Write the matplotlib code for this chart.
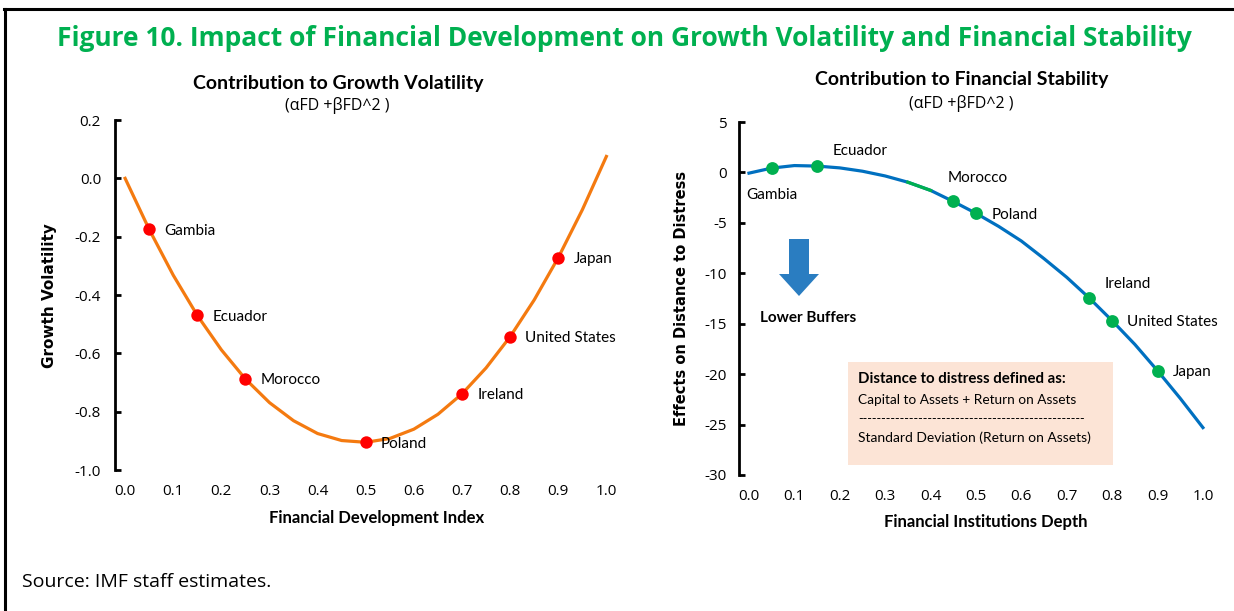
import matplotlib
matplotlib.use('Agg')
import matplotlib.pyplot as plt
from matplotlib.lines import Line2D
from matplotlib.patches import Rectangle, Polygon

# ---- data ----
fd_index = [0.0, 0.05, 0.1, 0.15, 0.2, 0.25, 0.3, 0.35, 0.4, 0.45, 0.5,
            0.55, 0.6, 0.65, 0.7, 0.75, 0.8, 0.85, 0.9, 0.95, 1.0]
growth_vol = [0.0, -0.175, -0.332, -0.470, -0.588, -0.688, -0.769, -0.831, -0.875, -0.899, -0.905,
              -0.892, -0.860, -0.809, -0.739, -0.650, -0.543, -0.417, -0.272, -0.108, 0.075]
gv_countries = ['Gambia', 'Ecuador', 'Morocco', 'Poland', 'Ireland', 'United States', 'Japan']
gv_x = [0.05, 0.15, 0.25, 0.5, 0.7, 0.8, 0.9]
gv_y = [-0.175, -0.470, -0.688, -0.905, -0.739, -0.543, -0.272]

fi_depth = [0.0, 0.05, 0.1, 0.15, 0.2, 0.25, 0.3, 0.35, 0.4, 0.45, 0.5,
            0.55, 0.6, 0.65, 0.7, 0.75, 0.8, 0.85, 0.9, 0.95, 1.0]
dist_distress = [-0.07, 0.43, 0.68, 0.63, 0.45, 0.12, -0.35, -0.97, -1.78, -2.88, -4.05,
                 -5.35, -6.8, -8.55, -10.4, -12.47, -14.7, -17.05, -19.66, -22.4, -25.3]
fs_countries = ['Gambia', 'Ecuador', 'Morocco', 'Poland', 'Ireland', 'United States', 'Japan']
fs_x = [0.05, 0.15, 0.45, 0.5, 0.75, 0.8, 0.9]
fs_y = [0.43, 0.63, -2.88, -4.05, -12.47, -14.7, -19.66]

x_ticks = [0.0, 0.1, 0.2, 0.3, 0.4, 0.5, 0.6, 0.7, 0.8, 0.9, 1.0]
gv_ticks = [-1.0, -0.8, -0.6, -0.4, -0.2, 0.0, 0.2]
fs_ticks = [-30, -25, -20, -15, -10, -5, 0, 5]

W, H = 1234, 611
plt.rcParams['font.family'] = ['Lato', 'DejaVu Sans']

fig = plt.figure(figsize=(W / 100, H / 100), dpi=100)


def fx(px):
    return px / W


def fy(py):
    return 1 - py / H


# frame lines at top and left
fig.add_artist(Line2D([fx(4), 1], [fy(9), fy(9)], color='black', lw=2.2))
fig.add_artist(Line2D([fx(5), fx(5)], [fy(9), 0], color='black', lw=2.2))

fig.text(fx(624), fy(38), 'Figure 10. Impact of Financial Development on Growth Volatility and Financial Stability',
         ha='center', va='center', color='#00B050', fontsize=19, fontweight='bold', family='Open Sans')
fig.text(fx(22), fy(582), 'Source: IMF staff estimates.', ha='left', va='center',
         fontsize=14, family='Open Sans')


def style_axis(ax, xmin, xmax, ticks, fmt, pad_y):
    for s in ['top', 'right', 'bottom']:
        ax.spines[s].set_visible(False)
    ax.spines['left'].set_linewidth(2)
    ax.set_xlim(xmin, xmax)
    ax.set_xticks(x_ticks)
    ax.set_xticklabels(['%.1f' % v for v in x_ticks], family='Open Sans')
    ax.set_yticks(ticks)
    ax.set_yticklabels([fmt % v for v in ticks], family='Open Sans')
    ax.tick_params(axis='x', length=0, pad=10, labelsize=11)
    ax.tick_params(axis='y', direction='in', length=4, width=2, pad=pad_y, labelsize=11)
    ax.patch.set_alpha(0)


# ---- left panel ----
ax1 = fig.add_axes([fx(115), fy(470), fx(616) - fx(115), fy(120) - fy(470)])
ax1.plot(fd_index, growth_vol, color='#F47A10', lw=2.3, zorder=2)
ax1.scatter(gv_x, gv_y, s=80, color='#FF0000', zorder=3, linewidths=0)
for name, x, y in zip(gv_countries, gv_x, gv_y):
    ax1.annotate(name, (x, y), xytext=(11, -1), textcoords='offset points',
                 ha='left', va='center', fontsize=11)
ax1.set_ylim(-1.0, 0.2)
style_axis(ax1, -0.021, 1.02, gv_ticks, '%.1f', 10)

fig.text(fx(338), fy(83), 'Contribution to Growth Volatility', ha='center', va='center',
         fontsize=14, fontweight='bold')
fig.text(fx(337), fy(106), '(\u03b1FD +\u03b2FD^2 )', ha='center', va='center', fontsize=11.5,
         family='Open Sans')
fig.text(fx(377), fy(518), 'Financial Development Index', ha='center', va='center',
         fontsize=12, fontweight='bold')
fig.text(fx(50), fy(296), 'Growth Volatility', ha='center', va='center', rotation=90,
         fontsize=11, fontweight='bold', family='DejaVu Sans')

# ---- right panel ----
ax2 = fig.add_axes([fx(739), fy(475), fx(1212) - fx(739), fy(122) - fy(475)])
ax2.plot(fi_depth, dist_distress, color='#0070C0', lw=2.3, zorder=2)
ax2.plot(fi_depth[7:9], dist_distress[7:9], color='#00B050', lw=2.3, zorder=2)
ax2.scatter(fs_x, fs_y, s=85, color='#00B050', zorder=3, linewidths=0)
offsets = [(0, -19.5, 'center'), (11, 11, 'left'), (-4, 17, 'left'), (11, -1, 'left'),
           (11, 10, 'left'), (11, -1, 'left'), (11, -1, 'left')]
for name, x, y, (dx, dy, ha) in zip(fs_countries, fs_x, fs_y, offsets):
    ax2.annotate(name, (x, y), xytext=(dx, dy), textcoords='offset points',
                 ha=ha, va='center', fontsize=11)
ax2.set_ylim(-30, 5)
style_axis(ax2, -0.022, 1.02, fs_ticks, '%d', 9)

fig.text(fx(962), fy(80), 'Contribution to Financial Stability', ha='center', va='center',
         fontsize=14, fontweight='bold')
fig.text(fx(961), fy(104), '(\u03b1FD +\u03b2FD^2 )', ha='center', va='center', fontsize=11.5,
         family='Open Sans')
fig.text(fx(986), fy(522), 'Financial Institutions Depth', ha='center', va='center',
         fontsize=12, fontweight='bold')
fig.text(fx(682), fy(298), 'Effects on Distance to Distress', ha='center', va='center',
         rotation=90, fontsize=10.5, fontweight='bold', family='DejaVu Sans')

# down arrow drawn as a polygon in pixel positions
arrow_px = [(789, 239), (809, 239), (809, 274), (819, 274), (799, 296),
            (779, 274), (789, 274)]
fig.add_artist(Polygon([(fx(a), fy(b)) for a, b in arrow_px], closed=True,
                       facecolor='#2A7DC1', edgecolor='none', transform=fig.transFigure))
fig.text(fx(760), fy(318), 'Lower Buffers', ha='left', va='center', fontsize=11, fontweight='bold')

fig.add_artist(Rectangle((fx(848), fy(465)), fx(1113) - fx(848), fy(362) - fy(465),
                         facecolor='#FCE4D6', edgecolor='none', transform=fig.transFigure, zorder=0))
fig.text(fx(858), fy(379), 'Distance to distress defined as:', ha='left', va='center',
         fontsize=10.8, fontweight='bold')
fig.text(fx(858), fy(400), 'Capital to Assets + Return on Assets', ha='left', va='center', fontsize=9.8)
fig.text(fx(858), fy(419), '-' * 49, ha='left', va='center', fontsize=9)
fig.text(fx(858), fy(438), 'Standard Deviation (Return on Assets)', ha='left', va='center', fontsize=10)

fig.savefig('out.png', dpi=100)
